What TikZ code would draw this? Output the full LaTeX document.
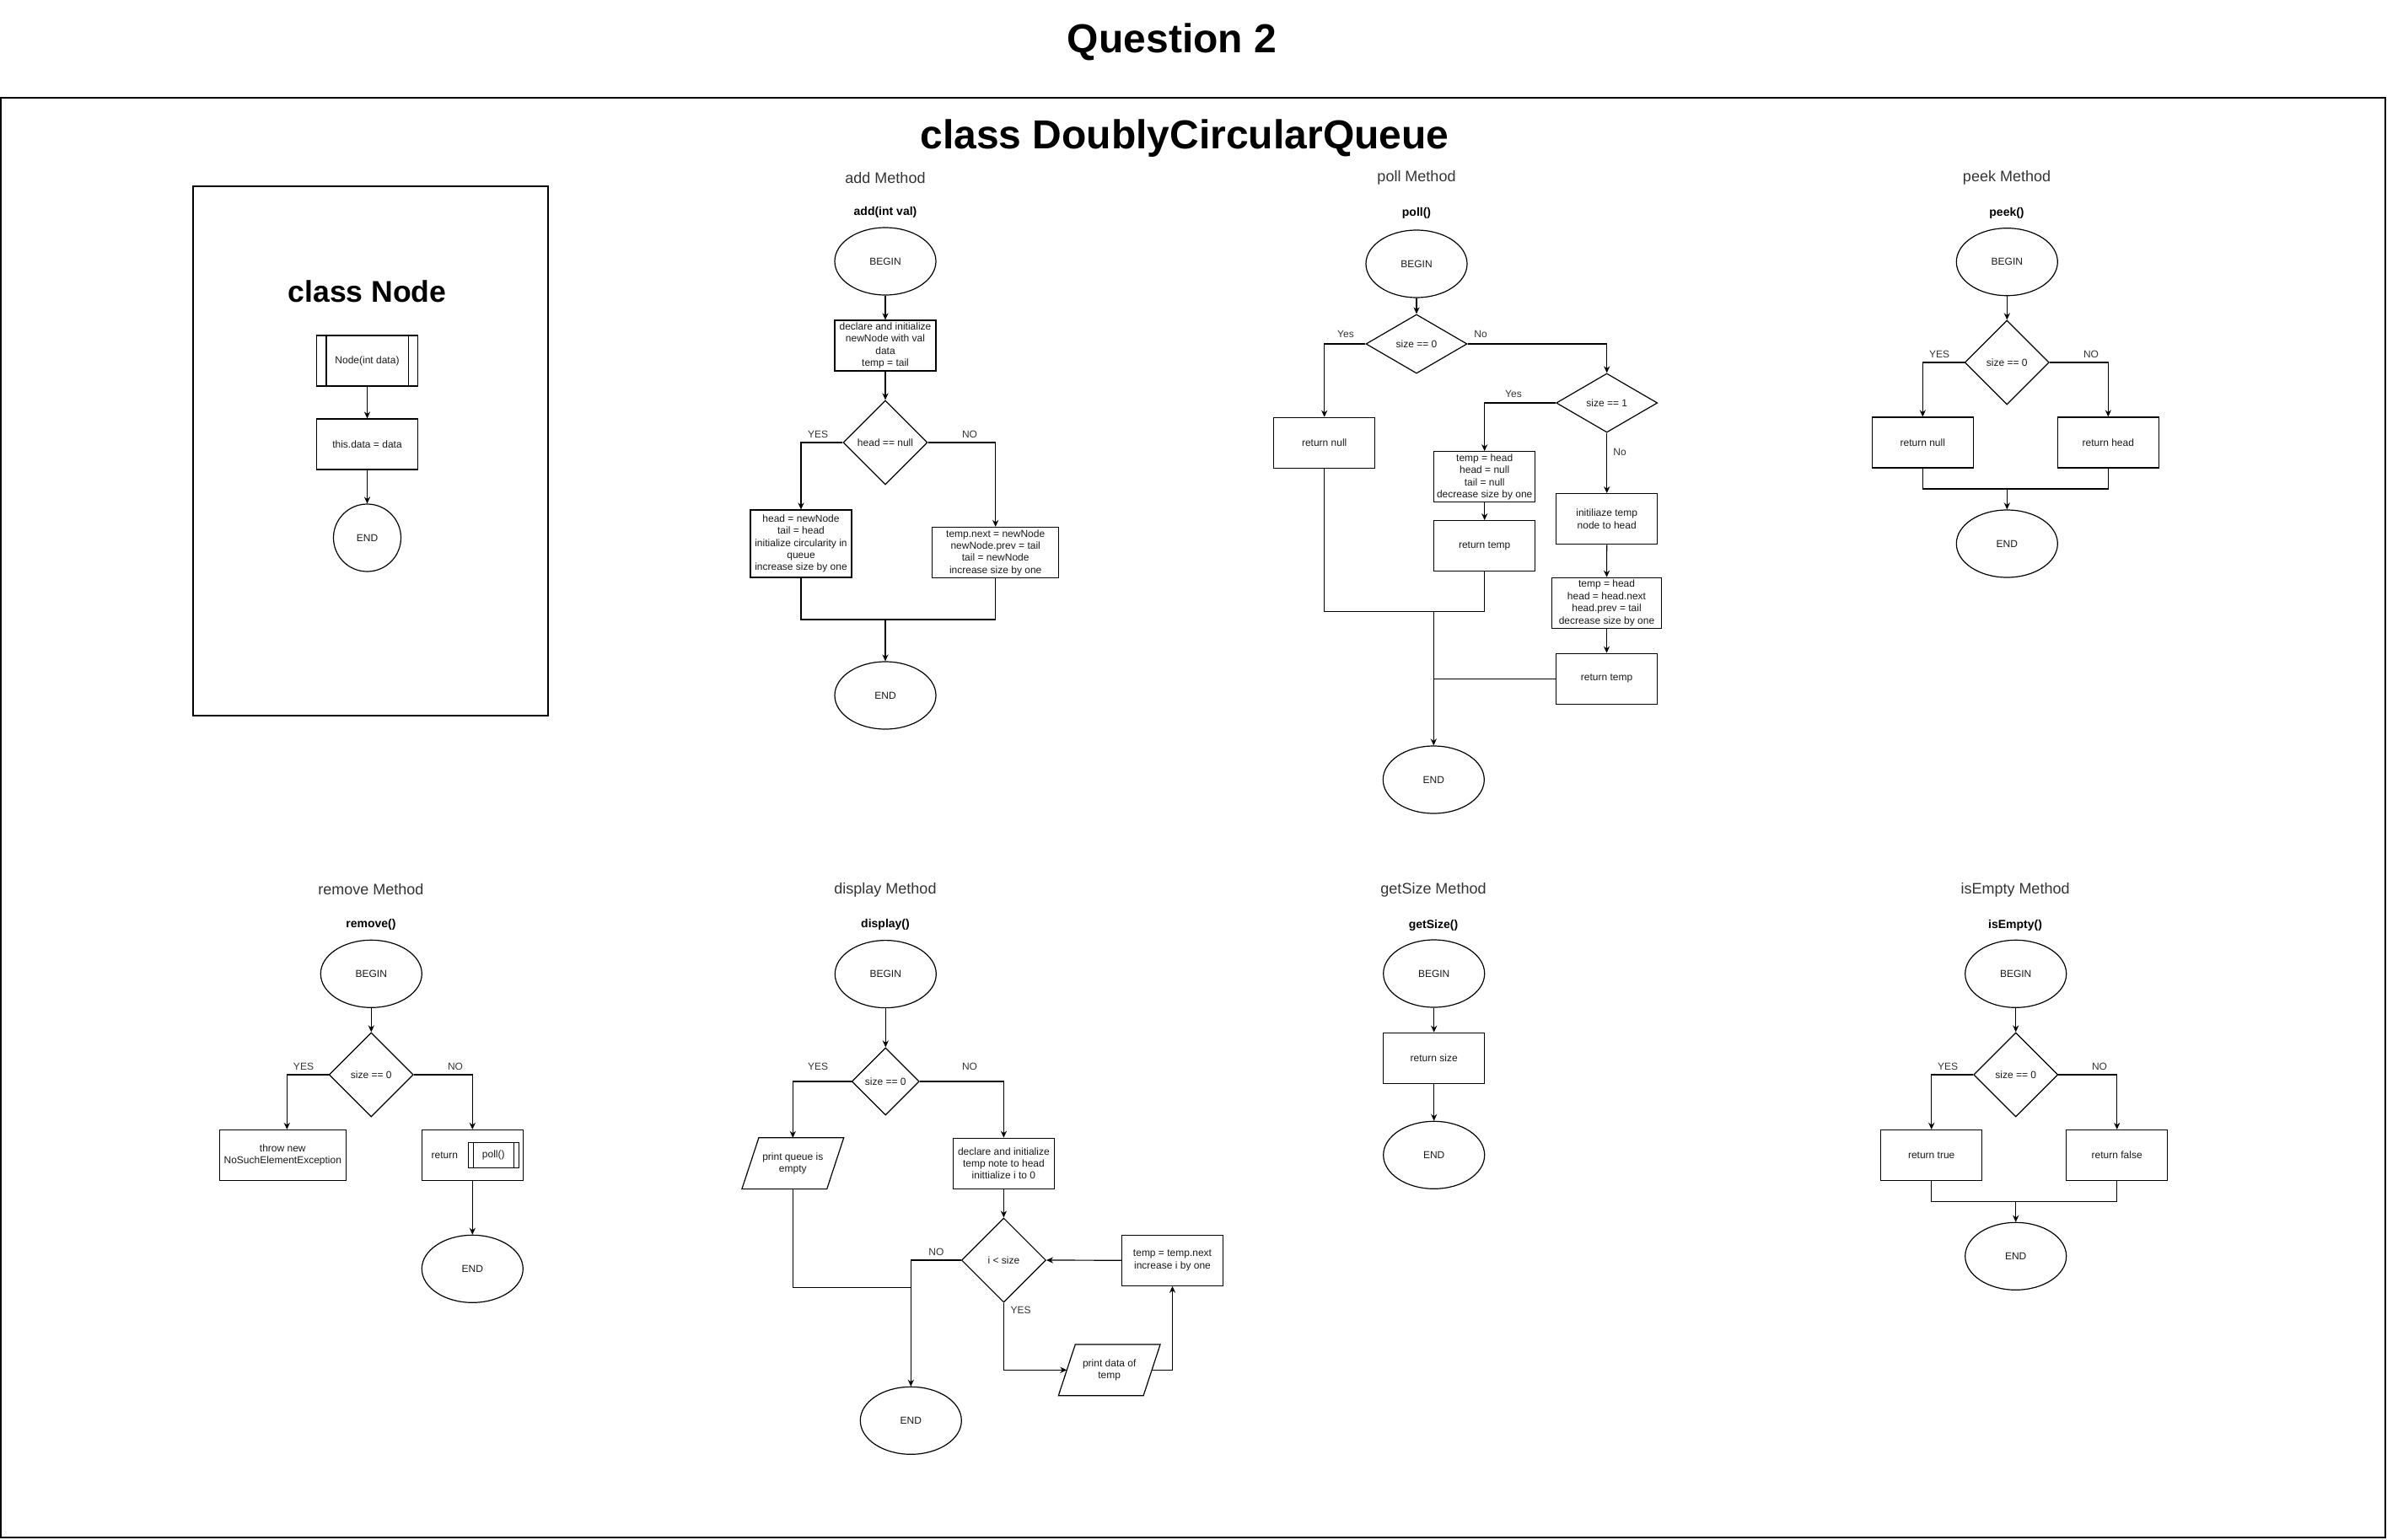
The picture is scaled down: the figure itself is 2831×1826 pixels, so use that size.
\documentclass[tikz,border=0pt]{standalone}
\usepackage{fontspec}
\setmainfont{Liberation Sans}
\usetikzlibrary{shapes.geometric,arrows.meta}
\tikzset{
 base/.style={font=\fontsize{6pt}{7.2pt}\selectfont, align=center, inner sep=0pt, text=black!90},
 proc/.style={base, draw, rectangle, minimum width=60pt, minimum height=30pt, line width=0.6pt},
 term/.style={base, draw, ellipse, minimum width=60pt, minimum height=40pt, line width=0.6pt},
 dec/.style={base, draw, diamond, minimum width=50pt, minimum height=50pt, line width=0.6pt},
 iobox/.style={base, rectangle, minimum width=60pt, minimum height=30pt},
 lbl/.style={base, text=black!80},
 mtitle/.style={font=\fontsize{9pt}{10.8pt}\selectfont, text=black!80, inner sep=0pt},
 fname/.style={font=\bfseries\fontsize{7pt}{8.4pt}\selectfont, inner sep=0pt},
 bigtitle/.style={font=\bfseries\fontsize{24pt}{28pt}\selectfont, inner sep=0pt},
 conn/.style={line width=0.6pt},
 arr/.style={conn, -{Stealth[length=4pt,width=3.6pt]}},
}
\begin{document}
\begin{tikzpicture}[x=0.5pt,y=-0.5pt]
\useasboundingbox (0,0) rectangle (2831,1826);
% titles and frame
\node[bigtitle] (q2) at (1390,50) {Question 2};
\draw[conn] (1,116) rectangle (2829,1824);
\node[bigtitle] (dcq) at (1405,164) {class DoublyCircularQueue};

% ---------------- class Node ----------------
\draw[conn] (229,221) rectangle (650,849);
\node[font=\bfseries\fontsize{17.8pt}{21pt}\selectfont, inner sep=0pt] (cn) at (435.5,346) {class Node};
\node[proc] (n1) at (435.5,428) {Node(int data)};
\draw[conn] ([xshift=6pt]n1.north west) -- ([xshift=6pt]n1.south west);
\draw[conn] ([xshift=-6pt]n1.north east) -- ([xshift=-6pt]n1.south east);
\node[proc] (n2) at (435.5,527) {this.data = data};
\node[term, minimum width=40pt, minimum height=40pt] (n3) at (435.5,638) {END};
\draw[arr] (n1) -- (n2);
\draw[arr] (n2) -- (n3);

% ---------------- add Method ----------------
\node[mtitle] (at) at (1050,211) {add Method};
\node[fname] (af) at (1050,252) {add(int val)};
\node[term] (aB) at (1050,310) {BEGIN};
\node[proc] (aD) at (1050,410) {declare and initialize\\newNode with val\\data\\temp = tail};
\node[dec] (aC) at (1050,525) {head == null};
\node[proc, minimum height=40pt] (aY) at (950,645) {head = newNode\\tail = head\\initialize circularity in\\queue\\ increase size by one};
\node[proc, minimum width=75pt] (aN) at (1180.7,655.5) {temp.next = newNode\\newNode.prev = tail\\tail = newNode\\ increase size by one};
\node[term] (aE) at (1050,825) {END};
\node[lbl] (ayl) at (970,515) {YES};
\node[lbl] (anl) at (1150,515) {NO};
\coordinate (aJ) at (1050,735);
\draw[arr] (aB) -- (aD);
\draw[arr] (aD) -- (aC);
\draw[arr] (aC.west) -| (aY.north);
\draw[arr] (aC.east) -| (aN.north);
\draw[conn] (aY.south) |- (aJ) -| (aN.south);
\draw[arr] (aJ) -- (aE);

% ---------------- poll Method ----------------
\node[mtitle] (pt) at (1680,211) {poll Method};
\node[fname] (pf) at (1680,253) {poll()};
\node[term] (pB) at (1680,313) {BEGIN};
\node[dec, minimum width=60pt, minimum height=35pt] (pC) at (1680,408) {size == 0};
\node[lbl] (pyl) at (1596,396) {Yes};
\node[lbl] (pnl) at (1756,396) {No};
\node[proc] (pN) at (1570.7,525.3) {return null};
\node[dec, minimum width=60pt, minimum height=35pt] (pC2) at (1905.7,478) {size == 1};
\node[lbl] (pyl2) at (1795,467) {Yes};
\node[lbl] (pnl2) at (1921,536) {No};
\node[proc] (pT1) at (1760.7,565.7) {temp = head\\head = null\\tail = null\\decrease size by one};
\node[proc] (pR1) at (1760.7,647.7) {return temp};
\node[proc] (pI) at (1905.7,615.7) {initiliaze temp\\node to head};
\node[proc, minimum width=65pt] (pT2) at (1905.5,715.3) {temp = head\\head = head.next\\head.prev = tail\\decrease size by one};
\node[proc] (pR2) at (1905.5,805.3) {return temp};
\node[term] (pE) at (1700.3,925) {END};
\coordinate (pJ) at (1700.3,725.3);
\draw[arr] (pB) -- (pC);
\draw[arr] (pC.west) -| (pN.north);
\draw[arr] (pC.east) -| (pC2.north);
\draw[arr] (pC2.west) -| (pT1.north);
\draw[arr] (pT1) -- (pR1);
\draw[arr] (pC2.south) -- (pI.north);
\draw[arr] (pI) -- (pT2);
\draw[arr] (pT2) -- (pR2);
\draw[conn] (pN.south) |- (pJ) -| (pR1.south);
\draw[arr] (pJ) -- (pE);
\draw[conn] (pR2.west) -- (pR2.west -| pJ);

% ---------------- peek Method ----------------
\node[mtitle] (kt) at (2380,211) {peek Method};
\node[fname] (kf) at (2380,253) {peek()};
\node[term] (kB) at (2380.3,310.7) {BEGIN};
\node[dec] (kC) at (2380.3,430) {size == 0};
\node[lbl] (kyl) at (2300,420) {YES};
\node[lbl] (knl) at (2480,420) {NO};
\node[proc] (kN) at (2280.3,525) {return null};
\node[proc] (kH) at (2500.3,525) {return head};
\node[term] (kE) at (2380.3,645) {END};
\coordinate (kJ) at (2380.3,580);
\draw[arr] (kB) -- (kC);
\draw[arr] (kC.west) -| (kN.north);
\draw[arr] (kC.east) -| (kH.north);
\draw[conn] (kN.south) |- (kJ) -| (kH.south);
\draw[arr] (kJ) -- (kE);

% ---------------- remove Method ----------------
\node[mtitle] (rt) at (440,1055) {remove Method};
\node[fname] (rf) at (440,1097) {remove()};
\node[term] (rB) at (440.3,1155.3) {BEGIN};
\node[dec] (rC) at (440.3,1275) {size == 0};
\node[lbl] (ryl) at (360,1265) {YES};
\node[lbl] (rnl) at (540,1265) {NO};
\node[proc, minimum width=75pt] (rT) at (335.3,1370.5) {throw new\\NoSuchElementException};
\node[proc] (rR) at (560.3,1370.5) {};
\node[base] (rret) at (527.3,1370.7) {return};
\node[proc, minimum width=30pt, minimum height=15pt] (rP) at (585.3,1370.3) {poll()};
\draw[conn] ([xshift=3.4pt]rP.north west) -- ([xshift=3.4pt]rP.south west);
\draw[conn] ([xshift=-3.4pt]rP.north east) -- ([xshift=-3.4pt]rP.south east);
\node[term] (rE) at (560.3,1505.3) {END};
\draw[arr] (rB) -- (rC);
\draw[arr] (rC.west) -| ([xshift=2.5pt]rT.north);
\draw[arr] (rC.east) -| (rR.north);
\draw[arr] (rR) -- (rE);

% ---------------- display Method ----------------
\node[mtitle] (dt) at (1050,1056) {display Method};
\node[fname] (df) at (1050,1097) {display()};
\node[term] (dB) at (1050.3,1155.6) {BEGIN};
\node[dec, minimum width=40pt, minimum height=40pt] (dC) at (1050.3,1283) {size == 0};
\node[lbl] (dyl) at (970,1265) {YES};
\node[lbl] (dnl) at (1150,1265) {NO};
\node[iobox] (dP) at (940.3,1380.2) {print queue is\\empty};
\draw[conn] ([xshift=10pt]dP.north west) -- (dP.north east) -- ([xshift=-10pt]dP.south east) -- (dP.south west) -- cycle;
\node[proc] (dD) at (1190.4,1380.2) {declare and initialize\\temp note to head\\inittialize i to 0};
\node[dec] (dL) at (1190.4,1495) {i < size};
\node[proc] (dT) at (1390.5,1495.2) {temp = temp.next\\increase i by one};
\node[iobox] (dQ) at (1315.7,1625.3) {print data of\\temp};
\draw[conn] ([xshift=10pt]dQ.north west) -- (dQ.north east) -- ([xshift=-10pt]dQ.south east) -- (dQ.south west) -- cycle;
\node[term] (dE) at (1080.3,1685.3) {END};
\node[lbl] (dnl2) at (1110.4,1485.3) {NO};
\node[lbl] (dyl2) at (1210.7,1554.5) {YES};
\coordinate (dJ) at (1080.3,1527.7);
\draw[arr] (dB) -- (dC);
\draw[arr] (dC.west) -| (dP.north);
\draw[arr] (dC.east) -| (dD.north);
\draw[arr] (dD) -- (dL);
\draw[arr] (dL.west) -| (dE.north);
\draw[conn] (dP.south) |- (dJ);
\draw[arr] (dL.south) |- ([xshift=5pt]dQ.west);
\draw[arr] ([xshift=-5pt]dQ.east) -| (dT.south);
\draw[arr] (dT.west) -- (dL.east);

% ---------------- getSize Method ----------------
\node[mtitle] (gt) at (1700,1056) {getSize Method};
\node[fname] (gf) at (1700,1098) {getSize()};
\node[term] (gB) at (1700.7,1155) {BEGIN};
\node[proc] (gR) at (1700.7,1255.3) {return size};
\node[term] (gE) at (1700.7,1370.3) {END};
\draw[arr] (gB) -- (gR);
\draw[arr] (gR) -- (gE);

% ---------------- isEmpty Method ----------------
\node[mtitle] (et) at (2390,1056) {isEmpty Method};
\node[fname] (ef) at (2390,1098) {isEmpty()};
\node[term] (eB) at (2390.7,1155.3) {BEGIN};
\node[dec] (eC) at (2390.7,1275) {size == 0};
\node[lbl] (eyl) at (2310,1265) {YES};
\node[lbl] (enl) at (2490,1265) {NO};
\node[proc] (eT) at (2290.7,1370.5) {return true};
\node[proc] (eF) at (2510.7,1370.5) {return false};
\node[term] (eE) at (2390.7,1490.3) {END};
\coordinate (eJ) at (2390.7,1425.3);
\draw[arr] (eB) -- (eC);
\draw[arr] (eC.west) -| (eT.north);
\draw[arr] (eC.east) -| (eF.north);
\draw[conn] (eT.south) |- (eJ) -| (eF.south);
\draw[arr] (eJ) -- (eE);
\end{tikzpicture}
\end{document}
